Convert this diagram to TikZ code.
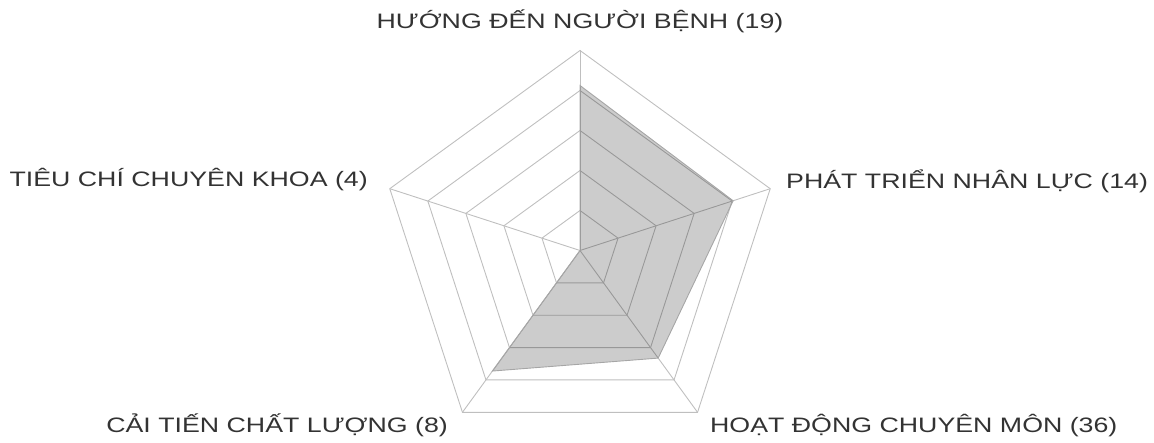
\documentclass[tikz,border=0pt]{standalone}
\usepackage{fontspec}
\newfontfamily\lblfont[FakeStretch=1.28]{Liberation Sans}
\usetikzlibrary{positioning}

\begin{document}
\begin{tikzpicture}[
    x=1pt, y=1pt,
    grid/.style={draw=gray!50, line width=0.9pt},
    series/.style={fill=black, fill opacity=0.2, draw=gray!70, line width=0.9pt},
    axislabel/.style={inner sep=0pt, text=black!80, font=\lblfont\fontsize{20.9}{25}\selectfont}
]
    \useasboundingbox (0,0) rectangle (1154,442);

    \begin{scope}[shift={(580,191.5)}]
    % Grid
    \foreach \r in {40,80,...,200}
      \draw[grid] (90:\r) -- (18:\r) -- (-54:\r) -- (-126:\r) -- (162:\r) -- cycle;
    \foreach \a/\n in {90/axTop, 18/axRight, -54/axBR, -126/axBL, 162/axLeft}
      \draw[grid] (0,0) -- (\a:200) coordinate (\n);

    % Data
    \path[series] (90:165) -- (18:161) -- (-54:133) -- (-126:149) -- (0,0) -- cycle;
    \end{scope}

    % Labels
    \node[axislabel, above=21.8pt of axTop, anchor=base] (lblTop) {HƯỚNG ĐẾN NGƯỜI BỆNH (19)};
    \node[axislabel, above right=0.4pt and 15.8pt of axRight, anchor=base west] (lblRight) {PHÁT TRIỂN NHÂN LỰC (14)};
    \node[axislabel, below right=20pt and 12.4pt of axBR, anchor=base west] (lblBR) {HOẠT ĐỘNG CHUYÊN MÔN (36)};
    \node[axislabel, below left=20pt and 14.4pt of axBL, anchor=base east] (lblBL) {CẢI TIẾN CHẤT LƯỢNG (8)};
    \node[axislabel, above left=2pt and 21.8pt of axLeft, anchor=base east] (lblLeft) {TIÊU CHÍ CHUYÊN KHOA (4)};

\end{tikzpicture}
\end{document}
